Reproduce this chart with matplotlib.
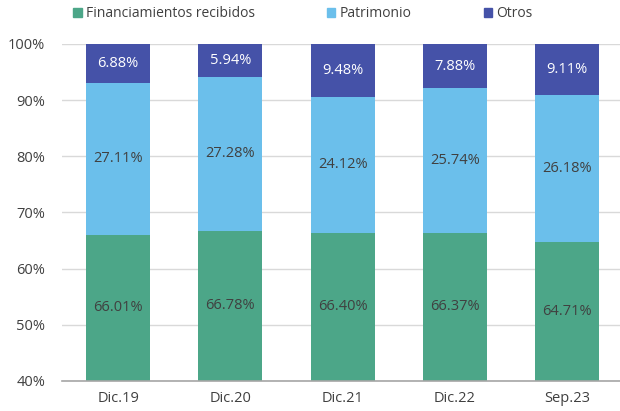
import matplotlib
matplotlib.use("Agg")
import matplotlib.pyplot as plt
from matplotlib.patches import Patch
import numpy as np

categories = ["Dic.19", "Dic.20", "Dic.21", "Dic.22", "Sep.23"]
financiamientos = [66.01, 66.78, 66.40, 66.37, 64.71]
patrimonio = [27.11, 27.28, 24.12, 25.74, 26.18]
otros = [6.88, 5.94, 9.48, 7.88, 9.11]
series_names = ["Financiamientos recibidos", "Patrimonio", "Otros"]
colors = ["#4CA688", "#6BBFEB", "#4552A8"]

plt.rcParams['font.family'] = ['Open Sans', 'DejaVu Sans']
text_color = "#404040"
fs = 10.5

fig = plt.figure(figsize=(6.2, 4.11), dpi=100)
ax = fig.add_axes([0.1, 0.073, 0.9, 0.82])

x = np.arange(len(categories))
w = 0.57
ymin = 40
f = np.array(financiamientos)
p = np.array(patrimonio)
o = np.array(otros)
ax.bar(x, f, w, color=colors[0], zorder=2)
ax.bar(x, p, w, bottom=f, color=colors[1], zorder=2)
ax.bar(x, o, w, bottom=f + p, color=colors[2], zorder=2)

for i in range(len(x)):
    ax.text(x[i], (ymin + f[i]) / 2, f"{f[i]:.2f}%", ha="center", va="center",
            fontsize=fs, color=text_color, zorder=3)
    ax.text(x[i], f[i] + p[i] / 2, f"{p[i]:.2f}%", ha="center", va="center",
            fontsize=fs, color=text_color, zorder=3)
    ax.text(x[i], f[i] + p[i] + o[i] / 2, f"{o[i]:.2f}%", ha="center", va="center",
            fontsize=fs, color="white", zorder=3)

ax.set_ylim(ymin, 100)
ax.set_xlim(-0.5, 4.47)
yt = np.arange(40, 101, 10)
ax.set_yticks(yt)
ax.set_yticklabels([f"{v}%" for v in yt])
ax.set_xticks(x)
ax.set_xticklabels(categories)
ax.tick_params(axis="both", length=0, labelsize=fs, colors=text_color)
ax.tick_params(axis="x", pad=7)
ax.tick_params(axis="y", pad=12)
ax.yaxis.grid(True, color="#D9D9D9", linewidth=1, zorder=0)
ax.set_axisbelow(True)
for s in ["top", "right", "left"]:
    ax.spines[s].set_visible(False)
ax.spines["bottom"].set_color("#A6A6A6")
ax.spines["bottom"].set_linewidth(1.2)

handles = [Patch(color=c, label=n) for c, n in zip(colors, series_names)]
fig.legend(handles=handles, loc="center left", bbox_to_anchor=(0.098, 0.967), ncol=3,
           frameon=False, fontsize=10, handlelength=0.6, handleheight=0.6,
           handletextpad=0.3, columnspacing=5.2, labelcolor=text_color)

fig.savefig("out.png", dpi=100)
